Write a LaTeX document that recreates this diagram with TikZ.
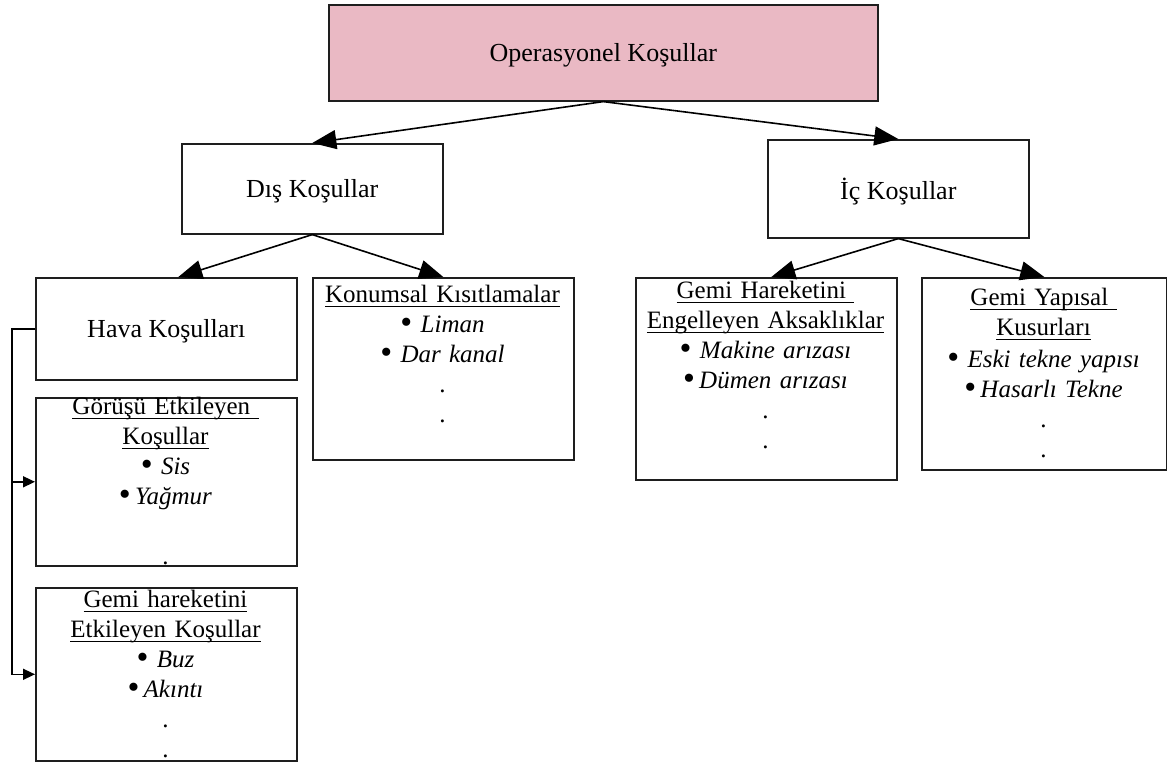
\documentclass[tikz,border=0pt]{standalone}
\usepackage{fontspec}
\setmainfont{Liberation Serif}
\usetikzlibrary{arrows.meta,calc}
\definecolor{pinkc}{RGB}{234,185,196}
\definecolor{boxc}{RGB}{30,30,30}
\newcommand\ulx[1]{\leavevmode\setbox0\hbox{#1}\rlap{\rule[-5pt]{\wd0}{1.5pt}}\box0}
\newcommand\bul{{\fontsize{34}{30}\selectfont\raisebox{-1.5pt}{•}}}
\tikzset{
  box/.style={draw=boxc, line width=1.6pt, fill=white, inner sep=0pt, anchor=north west,
    font=\fontsize{26}{30}\selectfont, text depth=0pt},
  lst/.style={font=\fontsize{25}{30}\selectfont, align=center, text width=250pt, anchor=base, inner sep=0pt},
  bigarrow/.style={line width=1.6pt, -{Triangle[length=24pt,width=19pt]}},
  smallarrow/.style={line width=1.6pt, -{Triangle[length=12pt,width=11pt]}},
}
\begin{document}
\begin{tikzpicture}[x=1pt,y=-1pt]
\useasboundingbox (0,0) rectangle (1167,762);
% boxes
\node[box, fill=pinkc, minimum width=549pt, minimum height=96pt] (top) at (328,4) {Operasyonel Koşullar};
\node[box, minimum width=261pt, minimum height=90pt] (dis) at (181,143) {Dış Koşullar};
\node[box, minimum width=261pt, minimum height=98pt] (ic) at (767,139) {İç Koşullar};
\node[box, minimum width=261pt, minimum height=102pt] (hava) at (35,277) {Hava Koşulları};
\node[box, minimum width=261pt, minimum height=168pt] (gorus) at (35,397) {};
\node[box, minimum width=261pt, minimum height=173pt] (gemih) at (35,587) {};
\node[box, minimum width=261pt, minimum height=182pt] (konum) at (312,277) {};
\node[box, minimum width=261pt, minimum height=202pt] (engel) at (635,277) {};
\node[box, minimum width=245pt, minimum height=192pt] (yapi) at (921,277) {};
% box texts
\node[lst] (gorust) at (165.5,414) {\ulx{Görüşü Etkileyen\ }\\ \ulx{Koşullar}\\ \bul~\textit{Sis}\\ \bul\,\textit{Yağmur}\\[30pt] .};
\node[lst] (gemiht) at (165.5,607) {\ulx{Gemi hareketini}\\ \ulx{Etkileyen Koşullar}\\ \bul~\textit{Buz}\\ \bul\,\textit{Akıntı}\\ .\\ .};
\node[lst] (konumt) at (442.5,302) {\ulx{Konumsal Kısıtlamalar}\\ \bul~\textit{Liman}\\ \bul~\textit{Dar kanal}\\ .\\ .};
\node[lst] (engelt) at (765.5,298) {\ulx{Gemi Hareketini\ }\\ \ulx{Engelleyen Aksaklıklar}\\ \bul~\textit{Makine arızası}\\ \bul\,\textit{Dümen arızası}\\ .\\ .};
\node[lst] (yapit) at (1043.5,305) {\ulx{Gemi Yapısal\ }\\ \ulx{Kusurları}\\[2pt] \bul~\textit{Eski tekne yapısı}\\ \bul\,\textit{Hasarlı Tekne}\\ .\\ .};
% connectors
\draw[bigarrow] (top.south) -- (dis.north);
\draw[bigarrow] (top.south) -- (ic.north);
\draw[bigarrow] (dis.south) -- ($(hava.north)+(12,0)$);
\draw[bigarrow] (dis.south) -- (konum.north);
\draw[bigarrow] (ic.south) -- ($(engel.north)+(5,0)$);
\draw[bigarrow] (ic.south) -- (yapi.north);
\draw[smallarrow] (hava.west) -- ++(-23,0) |- (gorus.west);
\draw[smallarrow] (hava.west) -- ++(-23,0) |- (gemih.west);
\end{tikzpicture}
\end{document}
